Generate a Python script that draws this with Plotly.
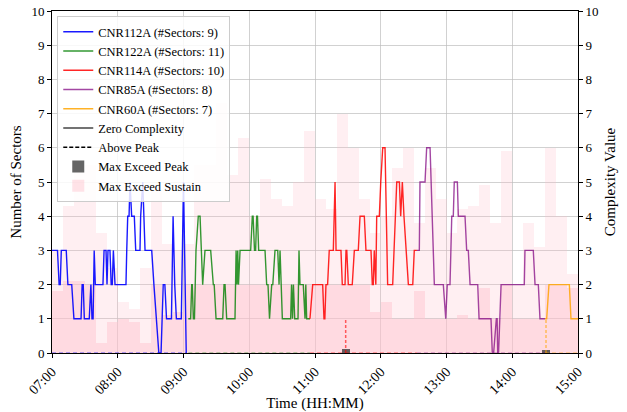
import plotly.graph_objects as go
import pandas as pd

BASE = pd.Timestamp("2024-01-01 07:00")

# ---------------- data (minutes after 07:00, values) ----------------
cnr112a_min = [0, 5, 6.5, 7.5, 8.5, 13, 14.5, 18, 20, 26.5, 27.5, 28.5, 29.5, 34, 35.5, 36.5, 37.5,
               38.5, 39.5, 46.5, 47.5, 49.3, 50.2, 51.1, 52.9, 54, 55, 56, 57.5, 67.5, 68.2, 69.1,
               70.3, 71.2, 72.7, 75.1, 76.4, 80.3, 80.9, 82.8, 84.9, 91, 93, 95, 97.5, 99.5, 101.5,
               103, 104.5, 109, 110.5, 112, 113.5, 118, 120, 122.5]
cnr112a_val = [3, 3, 2, 2, 3, 3, 2, 2, 1, 1, 2, 2, 1, 1, 2, 1, 1,
               3, 2, 2, 3, 3, 2, 3, 3, 2, 2, 3, 2, 2, 3, 4,
               4, 5, 4, 4, 3, 3, 4, 5, 3, 3, 2, 1, 0, 0, 2,
               2, 1, 1, 4, 2, 1, 1, 5, 0]

cnr122a_min = [124.4, 126.5, 127.5, 128, 129, 130, 131.4, 133.5, 135.1, 137.5, 139.6, 144.8, 147.2,
               148, 149.7, 155.8, 157, 157.9, 159.4, 167, 168, 168.8, 169.5, 170.2, 171.6, 181.3,
               182.8, 183.5, 184.8, 185.8, 186.8, 187.5, 188.6, 194.4, 195.9, 197.1, 198.5, 200.5,
               201.5, 203.5, 206, 207.2, 208.1, 210.2, 217.8, 218.6, 219.5, 220.3, 221.5, 224.5,
               225.4, 226.3, 229.3, 230.9, 231.6, 232.4, 235.4]
cnr122a_val = [1, 1, 2, 2, 1, 1, 3, 4, 4, 2, 3, 3, 2,
               2, 1, 1, 2, 2, 1, 1, 3, 2, 3, 2, 3, 3,
               4, 4, 3, 3, 4, 4, 3, 3, 2, 2, 1, 2,
               2, 3, 3, 2, 3, 1, 1, 2, 1, 2, 1, 1,
               3, 2, 2, 1, 2, 1, 1]

cnr114a_min = [235.4, 237.9, 247, 248.2, 249, 250, 251.5, 253, 256.7, 258.3, 259.2, 263.7, 264.9,
               267.4, 268.3, 269, 270.4, 274, 275.9, 279.5, 281.1, 285, 286.5, 291.1, 292.3, 293.2,
               294.1, 295, 295.5, 296.3, 298.7, 300, 301.8, 303.9, 304.8, 306.3, 310.9, 314.6, 317,
               318.2, 319.7, 321.2, 325.2, 329.2, 330.6, 333]
cnr114a_val = [1, 2, 2, 1, 1, 2, 2, 3, 3, 5, 3, 3, 2,
               2, 3, 3, 2, 2, 3, 3, 4, 4, 3, 3, 2, 2,
               3, 2, 2, 4, 4, 5, 6, 6, 4, 2, 2, 5, 5,
               4, 5, 4, 2, 2, 3, 3]

cnr85a_min = [333, 335.2, 335.8, 340.4, 341.9, 345, 348.9, 357.1, 359.3, 360.7, 363.2, 364.8, 366.2,
              367.1, 369.9, 370.8, 376.9, 378.4, 379.9, 381.5, 388.5, 389.7, 400.6, 401.8, 403,
              405.5, 406.2, 406.7, 407.5, 409.8, 431, 431.6, 439.2, 440.8, 443.8, 445.3, 449.9]
cnr85a_val = [3, 3, 5, 5, 6, 6, 2, 2, 1, 2, 2, 4, 4,
              5, 5, 4, 4, 3, 3, 2, 2, 1, 1, 0, 0,
              1, 1, 0, 0, 2, 2, 3, 3, 2, 2, 1, 1]

cnr60a_min = [449.9, 451.4, 453.5, 472.1, 473.6, 480]
cnr60a_val = [1, 1, 2, 2, 1, 1]

series_names = ["CNR112A (#Sectors: 9)", "CNR122A (#Sectors: 11)", "CNR114A (#Sectors: 10)",
                "CNR85A (#Sectors: 8)", "CNR60A (#Sectors: 7)"]

# Max exceed sustain (complexity) in 10-minute bins from 07:00
sustain_tall = [3.0, 4.3, 5.3, 5.5, 3.5, 2.5, 1.5, 1.3, 2.5, 4.8, 3.2, 3.0,
                3.2, 5.5, 5.5, 7.3, 5.2, 6.3, 4.0, 5.1, 4.5, 4.3, 5.0, 6.5,
                4.5, 4.2, 7.0, 6.0, 4.5, 3.5, 4.0, 5.4, 6.0, 3.8, 5.4, 4.5,
                3.5, 4.2, 4.3, 4.9, 3.8, 5.9, 2.0, 3.8, 3.1, 6.0, 4.0, 2.3]
sustain_base = [1.8, 2.1, 2.1, 2.0, 0.3, 0.9, 1.0, 0.9, 0.3, 2.0, 1.1, 1.2,
                2.0, 2.0, 2.0, 2.0, 2.0, 2.0, 2.0, 2.0, 2.0, 2.0, 2.0, 2.0,
                2.0, 2.0, 2.0, 2.0, 2.0, 1.2, 1.5, 1.0, 1.0, 1.8, 1.0, 1.0,
                1.0, 1.1, 1.0, 1.9, 1.0, 2.0, 1.0, 1.0, 1.0, 2.0, 2.0, 1.9]

# Max exceed peak markers and above-peak complexity
peak_min = [268, 450.8]
peak_height = [0.13, 0.1]
above_peak_val = [1.0, 1.0]

x_ticks_min = [0, 60, 120, 180, 240, 300, 360, 420, 480]
x_tick_labels = ["07:00", "08:00", "09:00", "10:00", "11:00", "12:00", "13:00", "14:00", "15:00"]


def t(m):
    return BASE + pd.Timedelta(minutes=m)


def ts(lst):
    return [t(m) for m in lst]


colors = ["rgba(0,0,255,0.9)", "rgba(0,128,0,0.8)", "rgba(255,0,0,0.85)",
          "rgba(128,0,128,0.72)", "rgba(255,165,0,0.85)"]
mins = [cnr112a_min, cnr122a_min, cnr114a_min, cnr85a_min, cnr60a_min]
vals = [cnr112a_val, cnr122a_val, cnr114a_val, cnr85a_val, cnr60a_val]

fig = go.Figure()
FONT = "Liberation Serif"

# sustain bars
bin_centers = [5 + 10 * i for i in range(len(sustain_tall))]
width_ms = 10 * 60 * 1000
fig.add_trace(go.Bar(x=ts(bin_centers), y=sustain_tall, width=width_ms,
                     marker=dict(color="rgba(255,192,203,0.25)", line=dict(width=0)),
                     showlegend=False, hoverinfo="skip"))
fig.add_trace(go.Bar(x=ts(bin_centers), y=sustain_base, width=width_ms,
                     marker=dict(color="rgba(255,192,203,0.45)", line=dict(width=0)),
                     name="Max Exceed Sustain", legendrank=9, showlegend=True))
# peak boxes
fig.add_trace(go.Bar(x=ts(peak_min), y=peak_height, width=7 * 60 * 1000,
                     marker=dict(color="rgba(50,50,50,0.75)", line=dict(width=0)),
                     name="Max Exceed Peak", legendrank=8, yaxis="y2"))

# sector lines and zero-level dashed lines
for i in range(5):
    fig.add_trace(go.Scatter(x=ts(mins[i]), y=vals[i], mode="lines", name=series_names[i],
                             line=dict(color=colors[i], width=1.4), legendrank=i + 1))
    fig.add_trace(go.Scatter(x=ts([mins[i][0], mins[i][-1]]), y=[0, 0], mode="lines",
                             line=dict(color=colors[i], width=1, dash="4px,3px"),
                             showlegend=False, opacity=0.7, yaxis="y2"))

# above-peak vertical dashed lines
peak_cols = [colors[2], colors[4]]
for k in range(len(peak_min)):
    fig.add_trace(go.Scatter(x=ts([peak_min[k], peak_min[k]]), y=[0, above_peak_val[k]],
                             mode="lines", line=dict(color=peak_cols[k], width=1.5, dash="3px,2px"),
                             showlegend=False, opacity=0.7, yaxis="y2"))

# legend-only entries
fig.add_trace(go.Scatter(x=[None], y=[None], mode="lines", name="Zero Complexity",
                         line=dict(color="#444444", width=1.5), legendrank=6))
fig.add_trace(go.Scatter(x=[None], y=[None], mode="lines", name="Above Peak",
                         line=dict(color="black", width=1.5, dash="4px,2px"), legendrank=7))

axis_common = dict(showline=True, linecolor="black", linewidth=1, ticks="outside", ticklen=4,
                   tickcolor="black", gridcolor="rgba(190,190,190,0.7)", gridwidth=1,
                   tickfont=dict(family=FONT, size=13, color="black"), zeroline=False)
x_common = dict(axis_common)
x_common["tickfont"] = dict(family=FONT, size=14, color="black")

fig.update_layout(
    width=627, height=412,
    margin=dict(l=52, r=49, t=11, b=59),
    paper_bgcolor="white", plot_bgcolor="white",
    barmode="overlay", bargap=0,
    font=dict(family=FONT, color="black"),
    xaxis=dict(range=[t(0), t(480)], tickvals=ts(x_ticks_min), ticktext=x_tick_labels,
               tickangle=-45, mirror=True, automargin=False,
               title=dict(text="Time (HH:MM)", font=dict(family=FONT, size=15), standoff=4),
               **x_common),
    yaxis=dict(range=[0, 10], dtick=1, automargin=False,
               title=dict(text="Number of Sectors", font=dict(family=FONT, size=15), standoff=6),
               **axis_common),
    yaxis2=dict(range=[0, 10], dtick=1, overlaying="y", side="right", showgrid=False,
                automargin=False,
                title=dict(text="Complexity Value", font=dict(family=FONT, size=15), standoff=6),
                **{k: v for k, v in axis_common.items() if k not in ("gridcolor", "gridwidth")}),
    legend=dict(x=0.01, y=0.985, xanchor="left", yanchor="top",
                bgcolor="rgba(255,255,255,0.85)", bordercolor="#cccccc", borderwidth=1,
                font=dict(family=FONT, size=12.5, color="black"), traceorder="normal",
                itemwidth=30, tracegroupgap=0),
    showlegend=True,
)

# remove the default 8px page margin so the 627x412 figure fills the window exactly
fig.write_html("out.html", config={"displayModeBar": False},
               post_script="document.body.style.margin='0';")
